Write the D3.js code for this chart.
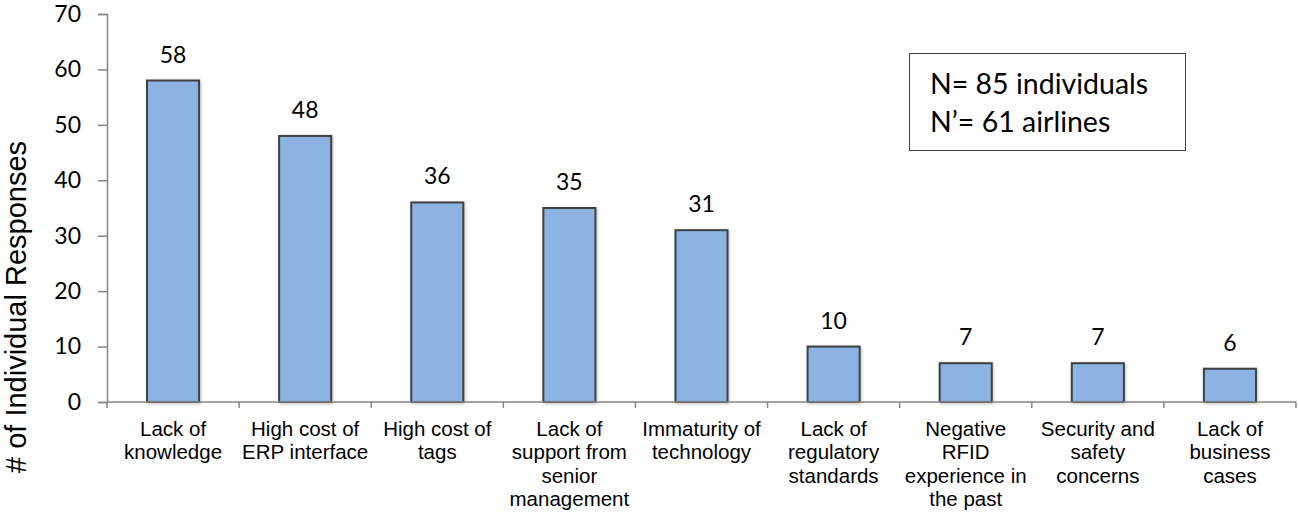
<!DOCTYPE html>
<html>
<head>
<meta charset="utf-8">
<script src="https://cdn.jsdelivr.net/npm/d3@7/dist/d3.min.js"></script>
<style>
  html, body { margin: 0; padding: 0; background: #fff; }
  svg { display: block; }
</style>
</head>
<body>
<svg id="chart" width="1298" height="514"></svg>
<script>
// Barriers to RFID adoption, number of individual responses
const categories = [
  ["Lack of", "knowledge"],
  ["High cost of", "ERP interface"],
  ["High cost of", "tags"],
  ["Lack of", "support from", "senior", "management"],
  ["Immaturity of", "technology"],
  ["Lack of", "regulatory", "standards"],
  ["Negative", "RFID", "experience in", "the past"],
  ["Security and", "safety", "concerns"],
  ["Lack of", "business", "cases"]
];
const responses = [58, 48, 36, 35, 31, 10, 7, 7, 6];
const yTicks = [0, 10, 20, 30, 40, 50, 60, 70];
const noteLines = ["N= 85 individuals", "N\u2019= 61 airlines"];
const yTitle = "# of Individual Responses";

const svg = d3.select("#chart");
const plotLeft = 107, plotRight = 1296, plotTop = 14, plotBottom = 402;

const x = d3.scaleBand()
  .domain(d3.range(categories.length))
  .range([plotLeft, plotRight])
  .paddingInner(0.606)
  .paddingOuter(0.303);

const y = d3.scaleLinear().domain([0, 70]).range([plotBottom, plotTop]);

const axisColor = "#868686";

// soft shadow under the bars
const defs = svg.append("defs");
const f = defs.append("filter").attr("id", "shadow")
  .attr("x", "-20%").attr("y", "-20%").attr("width", "140%").attr("height", "140%");
f.append("feDropShadow").attr("dx", 1).attr("dy", 1)
  .attr("stdDeviation", 1.5).attr("flood-color", "#000").attr("flood-opacity", 0.25);

// y axis
const yAxis = svg.append("g")
  .attr("transform", `translate(${plotLeft},0)`)
  .call(d3.axisLeft(y).tickValues(yTicks).tickSize(9).tickPadding(17).tickFormat(d3.format("d")));
yAxis.select(".domain").attr("stroke", axisColor).attr("stroke-width", 1.5);
yAxis.selectAll(".tick line").attr("stroke", axisColor).attr("stroke-width", 1.5);
yAxis.selectAll(".tick text")
  .attr("font-family", "Lato, 'Open Sans', sans-serif")
  .attr("font-size", 23)
  .attr("fill", "#000");

// bars
svg.append("g").selectAll("rect")
  .data(responses)
  .join("rect")
  .attr("x", (d, i) => x(i))
  .attr("y", d => y(d))
  .attr("width", x.bandwidth())
  .attr("height", d => y(0) - y(d))
  .attr("fill", "#8DB3E2")
  .attr("stroke", "#404040")
  .attr("stroke-width", 2)
  .attr("filter", "url(#shadow)");

// x axis with category boundary ticks
const boundaries = d3.range(categories.length + 1)
  .map(i => plotLeft + i * (plotRight - plotLeft) / categories.length);
svg.append("line")
  .attr("x1", plotLeft).attr("x2", plotRight)
  .attr("y1", plotBottom).attr("y2", plotBottom)
  .attr("stroke", axisColor).attr("stroke-width", 1.5);
svg.append("g").selectAll("line")
  .data(boundaries)
  .join("line")
  .attr("x1", d => d).attr("x2", d => d)
  .attr("y1", plotBottom).attr("y2", plotBottom + 6)
  .attr("stroke", axisColor).attr("stroke-width", 1.5);

// value labels
svg.append("g").selectAll("text")
  .data(responses)
  .join("text")
  .attr("x", (d, i) => x(i) + x.bandwidth() / 2)
  .attr("y", d => y(d) - 18)
  .attr("text-anchor", "middle")
  .attr("font-family", "Lato, 'Open Sans', sans-serif")
  .attr("font-size", 23)
  .attr("fill", "#000")
  .text(d => d);

// category labels
const catG = svg.append("g")
  .attr("font-family", "'Liberation Sans', Arial, sans-serif")
  .attr("font-size", 20.5)
  .attr("fill", "#000")
  .attr("text-anchor", "middle");
categories.forEach((lines, i) => {
  const cx = x(i) + x.bandwidth() / 2;
  const t = catG.append("text").attr("x", cx).attr("y", 436);
  lines.forEach((ln, j) => {
    t.append("tspan")
      .attr("x", cx)
      .attr("dy", j === 0 ? 0 : 23.3)
      .text(ln);
  });
});

// y axis title
svg.append("text")
  .attr("transform", "translate(26,307) rotate(-90)")
  .attr("text-anchor", "middle")
  .attr("font-family", "'Liberation Sans', Arial, sans-serif")
  .attr("font-size", 29)
  .attr("fill", "#000")
  .text(yTitle);

// sample size note
svg.append("rect")
  .attr("x", 909.5).attr("y", 53.5)
  .attr("width", 276).attr("height", 97)
  .attr("fill", "#fff")
  .attr("stroke", "#404040")
  .attr("stroke-width", 1);
svg.append("g").selectAll("text")
  .data(noteLines)
  .join("text")
  .attr("x", 930)
  .attr("y", (d, i) => 94 + i * 38)
  .attr("font-family", "Lato, 'Open Sans', sans-serif")
  .attr("font-size", 28.5)
  .attr("fill", "#000")
  .text(d => d);
</script>
</body>
</html>
